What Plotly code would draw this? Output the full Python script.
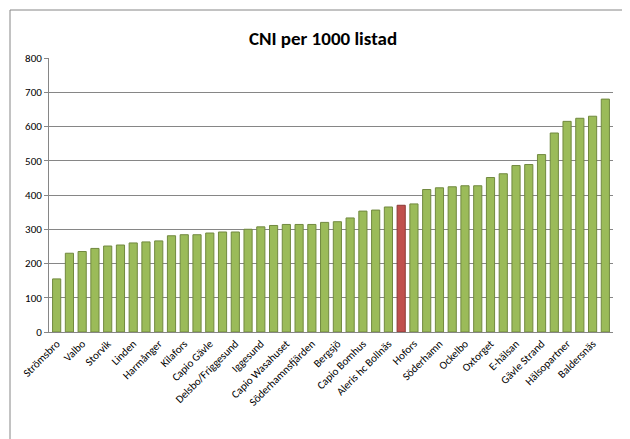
import plotly.graph_objects as go

values = [155, 230, 235, 244, 251, 254, 260, 263, 266, 281, 284, 284, 289, 292, 292, 300,
          307, 311, 314, 314, 314, 320, 322, 333, 353, 356, 365, 370, 374, 416, 421, 424,
          427, 427, 451, 462, 486, 489, 518, 581, 615, 624, 630, 680]
highlight_index = 27
tick_labels = ["Strömsbro", "Valbo", "Storvik", "Linden", "Harmånger", "Kilafors", "Capio Gävle",
               "Delsbo/Friggesund", "Iggesund", "Capio Wasahuset", "Söderhamnsfjärden", "Bergsjö",
               "Capio Bomhus", "Aleris hc Bollnäs", "Hofors", "Söderhamn", "Ockelbo", "Oxtorget",
               "E-hälsan", "Gävle Strand", "Hälsopartner", "Baldersnäs"]

x = list(range(len(values)))
colors = ["#C0504D" if i == highlight_index else "#9BBB59" for i in x]
lines = ["#8C3836" if i == highlight_index else "#71893F" for i in x]

L, R, T, B = 41, 25, 50, 115
W, H = 630, 439
pw, ph = W - L - R, H - T - B

fig = go.Figure(go.Bar(x=x, y=values, marker=dict(color=colors, line=dict(color=lines, width=1))))
fig.update_layout(
    width=W, height=H,
    paper_bgcolor="white", plot_bgcolor="white",
    margin=dict(l=L, r=R, t=T, b=B),
    title=dict(text="<b>CNI per 1000 listad</b>", x=0.5, xanchor="center", y=0.945,
               font=dict(family="Carlito, Calibri, Liberation Sans, sans-serif", size=19, color="black")),
    font=dict(family="Carlito, Calibri, Liberation Sans, sans-serif", size=11, color="black"),
    bargap=0.36, showlegend=False,
    shapes=[dict(type="rect", xref="paper", yref="paper",
                 x0=-(L - 2) / pw, x1=1 + (R - 3) / pw, y0=-(B - 3) / ph, y1=1 + (T - 2) / ph,
                 line=dict(color="#868686", width=1))],
)
fig.update_xaxes(tickmode="array", tickvals=x[::2], ticktext=tick_labels, tickangle=-45,
                 range=[-0.6, len(values) - 0.4], showline=True, linecolor="#868686",
                 ticks="", showgrid=False)
fig.update_yaxes(range=[0, 800], dtick=100, showgrid=True, gridcolor="#868686", gridwidth=1,
                 showline=True, linecolor="#868686", ticks="outside", ticklen=4,
                 tickcolor="#868686", zeroline=False)
fig.write_html("out.html")
